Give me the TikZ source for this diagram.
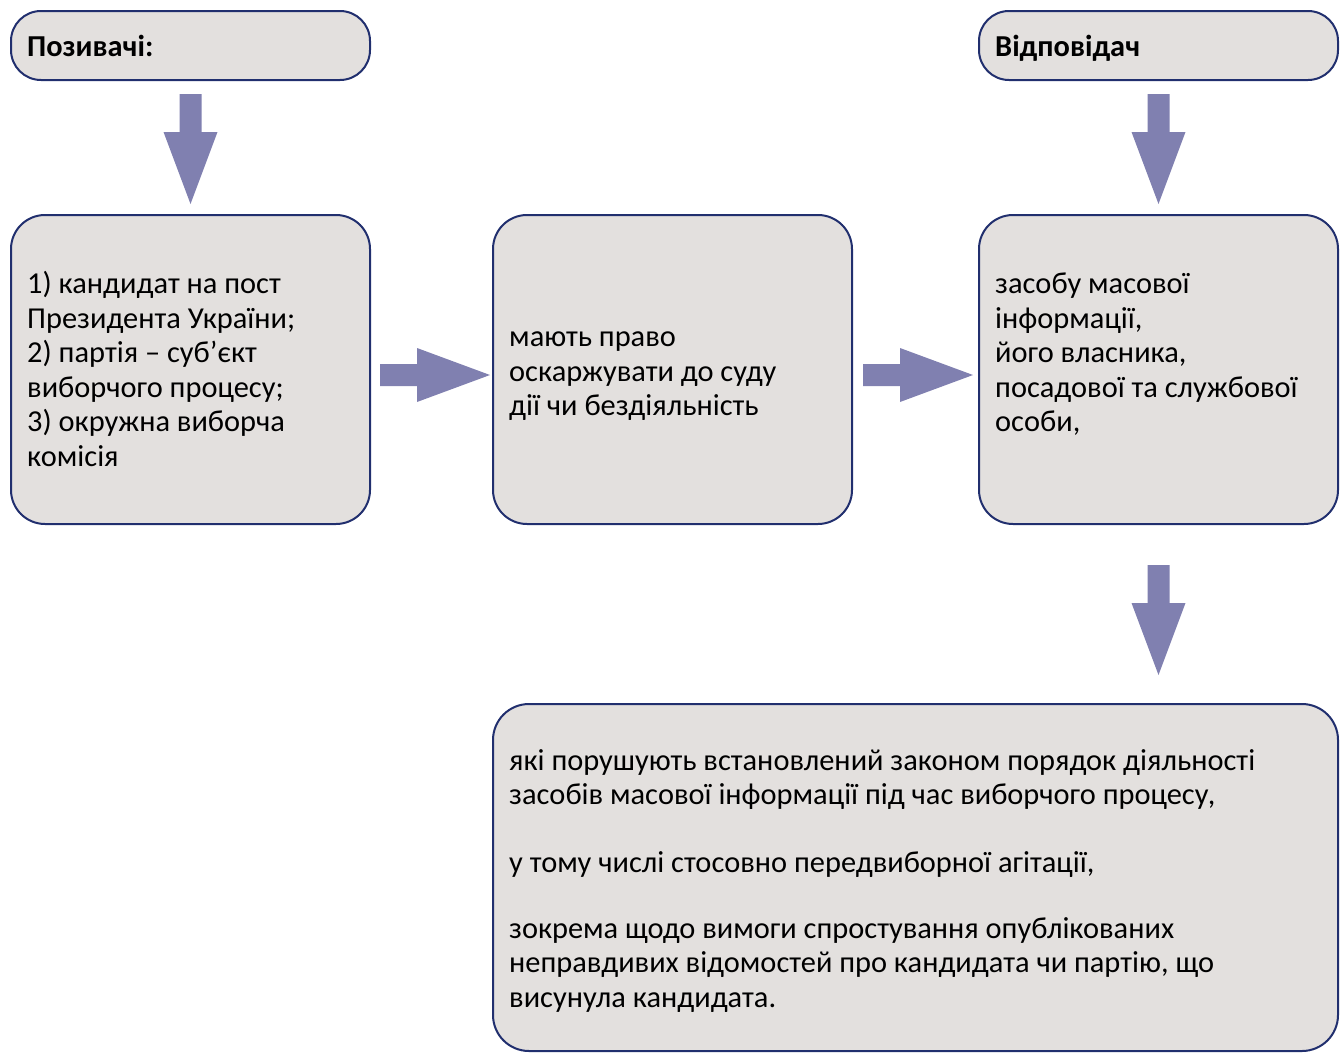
\documentclass[tikz,border=0pt]{standalone}
\usepackage{fontspec}
\setmainfont{Carlito}
\usetikzlibrary{calc}
\definecolor{boxfill}{RGB}{227,224,222}
\definecolor{boxline}{RGB}{33,47,110}
\definecolor{arrowfill}{RGB}{128,128,176}
\tikzset{
  box/.style={draw=boxline, line width=2pt, fill=boxfill, rounded corners=#1,
    inner sep=0pt, anchor=north west},
  txt/.style={font=\fontsize{30.4}{34.5}\selectfont, align=left, inner sep=0pt,
    anchor=north west},
  pics/downarrow/.style={code={
    \fill[arrowfill] (-11,0) -- (11,0) -- (11,38) -- (27,38) -- (0,110)
      -- (-27,38) -- (-11,38) -- cycle;}},
  pics/rightarrow/.style={code={
    \fill[arrowfill] (0,-11) -- (37,-11) -- (37,-27) -- (110,0) -- (37,27)
      -- (37,11) -- (0,11) -- cycle;}}
}
% strut height = 0.7 * 34.5 = 24.15: a text node's top sits that far above its first baseline
\newcommand{\topof}[1]{#1-24.15}
\begin{document}
\begin{tikzpicture}[x=1pt, y=-1pt]
\useasboundingbox (0,0) rectangle (1341,1052);

% boxes
\node[box=30, minimum width=359, minimum height=69] (plaintiffs) at (10,10) {};
\node[box=30, minimum width=359, minimum height=69] (defendant) at (978,10) {};
\node[box=34, minimum width=359, minimum height=309] (list) at (10,214) {};
\node[box=34, minimum width=359, minimum height=309] (right) at (492,214) {};
\node[box=34, minimum width=359, minimum height=309] (media) at (978,214) {};
\node[box=36, minimum width=845, minimum height=347] (acts) at (492,703) {};

% texts
\node[txt] (plaintiffsT) at (27,\topof{56.5}) {\strut\textbf{Позивачі:}};
\node[txt] (defendantT) at (995,\topof{56.5}) {\strut\textbf{Відповідач}};
\node[txt] (listT) at (27,\topof{293.5}) {\strut 1) кандидат на пост\\
  Президента України;\\ 2) партія – суб’єкт\\ виборчого процесу;\\
  3) окружна виборча\\ комісія};
\node[txt] (rightT) at (509,\topof{346.5}) {\strut мають право\\
  оскаржувати до суду\\ дії чи бездіяльність};
\node[txt] (mediaT) at (995,\topof{293.5}) {\strut засобу масової\\ інформації,\\
  його власника,\\ посадової та службової\\ особи,};
\node[txt] (actsA) at (509,\topof{770}) {\strut які порушують встановлений законом порядок діяльності\\
  засобів масової інформації під час виборчого процесу,};
\node[txt] (actsB) at (509,\topof{872}) {\strut у тому числі стосовно передвиборної агітації,};
\node[txt] (actsC) at (509,\topof{938}) {\strut зокрема щодо вимоги спростування опублікованих\\
  неправдивих відомостей про кандидата чи партію, що\\ висунула кандидата.};

% block arrows between the boxes
\pic at ($(plaintiffs.south)+(0,13)$) {downarrow};
\pic at ($(defendant.south)+(0,13)$) {downarrow};
\pic at ($(media.south)+(0,40)$) {downarrow};
\pic at ($(list.east)+(9,5.5)$) {rightarrow};
\pic at ($(right.east)+(10,5.5)$) {rightarrow};
\end{tikzpicture}
\end{document}
